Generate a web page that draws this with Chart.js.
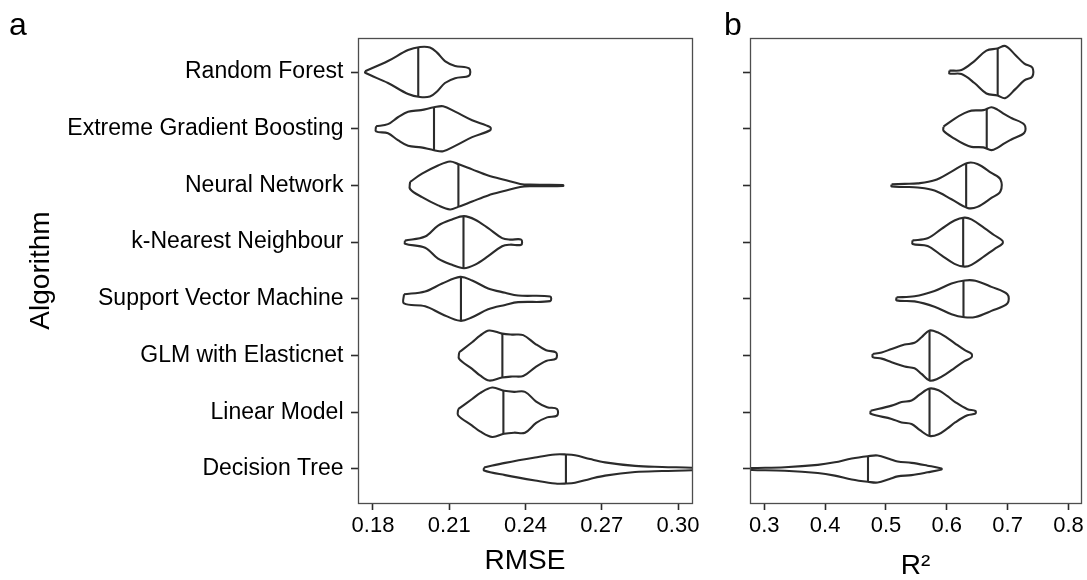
<!DOCTYPE html>
<html>
<head>
<meta charset="utf-8">
<script src="https://cdn.jsdelivr.net/npm/chart.js@4.4.1/dist/chart.umd.min.js"></script>
<style>
  body { margin: 0; background: #fff; }
  #wrap { position: relative; width: 1087px; height: 580px; }
  canvas { position: absolute; top: 0; }
</style>
</head>
<body>
<div id="wrap">
  <canvas id="chartA" width="710" height="580" style="left:0px"></canvas>
  <canvas id="chartB" width="387" height="580" style="left:700px"></canvas>
</div>
<script>
	var algorithms = ['Random Forest', 'Extreme Gradient Boosting', 'Neural Network', 'k-Nearest Neighbour',
		'Support Vector Machine', 'GLM with Elasticnet', 'Linear Model', 'Decision Tree'];

	var rmseTicks = [0.18, 0.21, 0.24, 0.27, 0.30];
	var r2Ticks = [0.3, 0.4, 0.5, 0.6, 0.7, 0.8];

	var rmseMedian = [0.1978, 0.2040, 0.2136, 0.2156, 0.2146, 0.2309, 0.2313, 0.2559];
	var r2Median = [0.6836, 0.6656, 0.6318, 0.6269, 0.6274, 0.5716, 0.5716, 0.4705];

	// violin outlines: positions along the value axis and relative density there
	var rmseGrid = [
		[0.1769, 0.1859, 0.1938, 0.1985, 0.2024, 0.2052, 0.2083, 0.2123, 0.2178],
		[0.1812, 0.1859, 0.1898, 0.1938, 0.1989, 0.2040, 0.2076, 0.2123, 0.2190, 0.2261],
		[0.1946, 0.1993, 0.2056, 0.2103, 0.2135, 0.2190, 0.2253, 0.2320, 0.2379, 0.2418, 0.2548],
		[0.1926, 0.2005, 0.2056, 0.2111, 0.2158, 0.2202, 0.2253, 0.2308, 0.2339, 0.2383],
		[0.1922, 0.2005, 0.2072, 0.2143, 0.2190, 0.2253, 0.2320, 0.2371, 0.2497],
		[0.2139, 0.2190, 0.2221, 0.2257, 0.2308, 0.2347, 0.2391, 0.2438, 0.2481, 0.2520],
		[0.2135, 0.2190, 0.2221, 0.2269, 0.2316, 0.2355, 0.2398, 0.2442, 0.2485, 0.2524],
		[0.2237, 0.2320, 0.2438, 0.2517, 0.2560, 0.2595, 0.2654, 0.2713, 0.2831, 0.2938, 0.3056, 0.3107]
	];
	var rmseDensity = [
		[0.03, 0.43, 0.86, 0.98, 0.96, 0.76, 0.43, 0.24, 0.14],
		[0.10, 0.18, 0.45, 0.67, 0.73, 0.84, 0.88, 0.67, 0.33, 0.06],
		[0.14, 0.46, 0.78, 0.94, 0.84, 0.63, 0.39, 0.21, 0.06, 0.03, 0.02],
		[0.06, 0.22, 0.65, 0.89, 1.02, 0.88, 0.55, 0.16, 0.10, 0.10],
		[0.18, 0.29, 0.60, 0.86, 0.72, 0.41, 0.24, 0.13, 0.09],
		[0.13, 0.52, 0.78, 0.98, 0.86, 0.82, 0.80, 0.46, 0.21, 0.12],
		[0.12, 0.52, 0.75, 0.97, 0.84, 0.80, 0.80, 0.42, 0.20, 0.13],
		[0.06, 0.24, 0.45, 0.57, 0.57, 0.54, 0.39, 0.26, 0.12, 0.08, 0.05, 0.02]
	];
	var r2Grid = [
		[0.6044, 0.6241, 0.6454, 0.6651, 0.6831, 0.6962, 0.7126, 0.7274, 0.7405],
		[0.5946, 0.6126, 0.6290, 0.6405, 0.6601, 0.6733, 0.6831, 0.6946, 0.7061, 0.7274],
		[0.5093, 0.5307, 0.5520, 0.5798, 0.6077, 0.6339, 0.6503, 0.6733, 0.6880],
		[0.5438, 0.5684, 0.5913, 0.6126, 0.6290, 0.6405, 0.6618, 0.6782, 0.6913],
		[0.5175, 0.5470, 0.5798, 0.6077, 0.6290, 0.6470, 0.6733, 0.6995],
		[0.4782, 0.4930, 0.5093, 0.5307, 0.5470, 0.5585, 0.5716, 0.5848, 0.5995, 0.6126, 0.6290, 0.6405],
		[0.4749, 0.5093, 0.5257, 0.5421, 0.5552, 0.5716, 0.5864, 0.6011, 0.6143, 0.6339, 0.6470],
		[0.2602, 0.2798, 0.3339, 0.3880, 0.4159, 0.4438, 0.4700, 0.4864, 0.5061, 0.5192, 0.5421, 0.5684, 0.5913]
	];
	var r2Density = [
		[0.06, 0.08, 0.43, 0.84, 0.92, 1.02, 0.67, 0.33, 0.18],
		[0.08, 0.39, 0.61, 0.71, 0.73, 0.84, 0.75, 0.57, 0.42, 0.16],
		[0.04, 0.06, 0.08, 0.20, 0.54, 0.88, 0.84, 0.49, 0.24],
		[0.07, 0.15, 0.52, 0.85, 0.96, 0.89, 0.55, 0.27, 0.06],
		[0.06, 0.10, 0.31, 0.60, 0.72, 0.71, 0.47, 0.18],
		[0.06, 0.12, 0.26, 0.43, 0.50, 0.72, 0.98, 0.91, 0.71, 0.49, 0.22, 0.07],
		[0.06, 0.26, 0.40, 0.46, 0.69, 0.93, 0.86, 0.63, 0.39, 0.12, 0.05],
		[0.02, 0.04, 0.07, 0.16, 0.26, 0.41, 0.50, 0.53, 0.39, 0.29, 0.24, 0.13, 0.02]
	];

	var halfWidth = 0.45;
	var ink = '#2b2b2b';
	var fontFamily = "'Liberation Sans', Arial, sans-serif";

	function densityAt(xs, ds, v) {
		for (var j = 0; j < xs.length - 1; j++) {
			if (v >= xs[j] && v <= xs[j + 1]) {
				var t = (v - xs[j]) / (xs[j + 1] - xs[j]);
				return ds[j] + t * (ds[j + 1] - ds[j]);
			}
		}
		return 0;
	}

	function violinSets(grid, density, medians) {
		var sets = [];
		grid.forEach(function(xs, i) {
			var c = i + 1;
			var pts = [];
			xs.forEach(function(x, j) {
				pts.push({ x : x, y : c - density[i][j] * halfWidth });
			});
			for (var j = xs.length - 1; j >= 0; j--) {
				pts.push({ x : xs[j], y : c + density[i][j] * halfWidth });
			}
			pts.push(pts[0]);
			sets.push({
				data : pts,
				showLine : true,
				fill : false,
				borderColor : ink,
				borderWidth : 2.1,
				pointRadius : 0,
				tension : 0.35,
			});
			var w = densityAt(xs, density[i], medians[i]) * halfWidth;
			sets.push({
				data : [ { x : medians[i], y : c - w }, { x : medians[i], y : c + w } ],
				showLine : true,
				borderColor : ink,
				borderWidth : 2.1,
				pointRadius : 0,
				tension : 0,
			});
		});
		return sets;
	}

	// panel frame + panel letter
	function framePlugin(letter, letterX) {
		return {
			id : 'frame',
			afterDraw : function(chart) {
				var a = chart.chartArea, ctx = chart.ctx;
				ctx.save();
				ctx.strokeStyle = '#4d4d4d';
				ctx.lineWidth = 1.3;
				ctx.strokeRect(Math.round(a.left) + 0.5, Math.round(a.top) + 0.5,
					Math.round(a.right - a.left), Math.round(a.bottom - a.top));
				ctx.fillStyle = '#000';
				ctx.font = '32px ' + fontFamily;
				ctx.textBaseline = 'alphabetic';
				ctx.fillText(letter, letterX, 35);
				ctx.restore();
			}
		};
	}

	function buildConfig(p) {
		return {
			type : 'scatter',
			data : { datasets : violinSets(p.grid, p.density, p.medians) },
			options : {
				responsive : false,
				animation : false,
				events : [],
				layout : { padding : { top : 38, right : p.padRight, bottom : 0, left : 0 } },
				plugins : { legend : { display : false }, tooltip : { enabled : false } },
				scales : {
					x : {
						type : 'linear',
						min : p.xMin,
						max : p.xMax,
						afterBuildTicks : function(scale) {
							scale.ticks = p.xTicks.map(function(v) { return { value : v }; });
						},
						afterFit : function(scale) { scale.height = 77; },
						border : { display : false },
						grid : { drawOnChartArea : false, drawTicks : true, tickLength : 7, tickColor : ink, tickWidth : 1.6 },
						ticks : {
							padding : 3,
							color : '#000',
							font : { family : fontFamily, size : 22 },
							callback : function(v) { return v.toFixed(p.decimals); }
						},
						title : {
							display : true,
							text : p.xTitle,
							color : '#000',
							font : { family : fontFamily, size : 28 },
							padding : { top : 0, bottom : p.titlePad }
						}
					},
					y : {
						type : 'linear',
						min : 0.4,
						max : 8.6,
						reverse : true,
						afterBuildTicks : function(scale) {
							scale.ticks = algorithms.map(function(a, i) { return { value : i + 1 }; });
						},
						afterFit : function(scale) { scale.width = p.yWidth; },
						border : { display : false },
						grid : { drawOnChartArea : false, drawTicks : true, tickLength : 7, tickColor : ink, tickWidth : 1.6 },
						ticks : {
							padding : 7.5,
							color : '#000',
							font : { family : fontFamily, size : 23 },
							callback : function(v) { return p.showLabels ? algorithms[v - 1] : ''; }
						},
						title : {
							display : p.showLabels,
							text : 'Algorithm',
							color : '#000',
							font : { family : fontFamily, size : 28 },
							padding : { top : 24, bottom : 0 }
						}
					}
				}
			},
			plugins : [ framePlugin(p.letter, p.letterX) ]
		};
	}

	new Chart(document.getElementById('chartA'), buildConfig({
		grid : rmseGrid, density : rmseDensity, medians : rmseMedian,
		xMin : 0.1741, xMax : 0.3055, xTicks : rmseTicks, decimals : 2,
		xTitle : 'RMSE', titlePad : 2, yWidth : 358, padRight : 18,
		showLabels : true, letter : 'a', letterX : 9
	}));

	new Chart(document.getElementById('chartB'), buildConfig({
		grid : r2Grid, density : r2Density, medians : r2Median,
		xMin : 0.2766, xMax : 0.8208, xTicks : r2Ticks, decimals : 1,
		xTitle : 'R\u00B2', titlePad : -3, yWidth : 50, padRight : 5,
		showLabels : false, letter : 'b', letterX : 24
	}));
</script>
</body>
</html>
